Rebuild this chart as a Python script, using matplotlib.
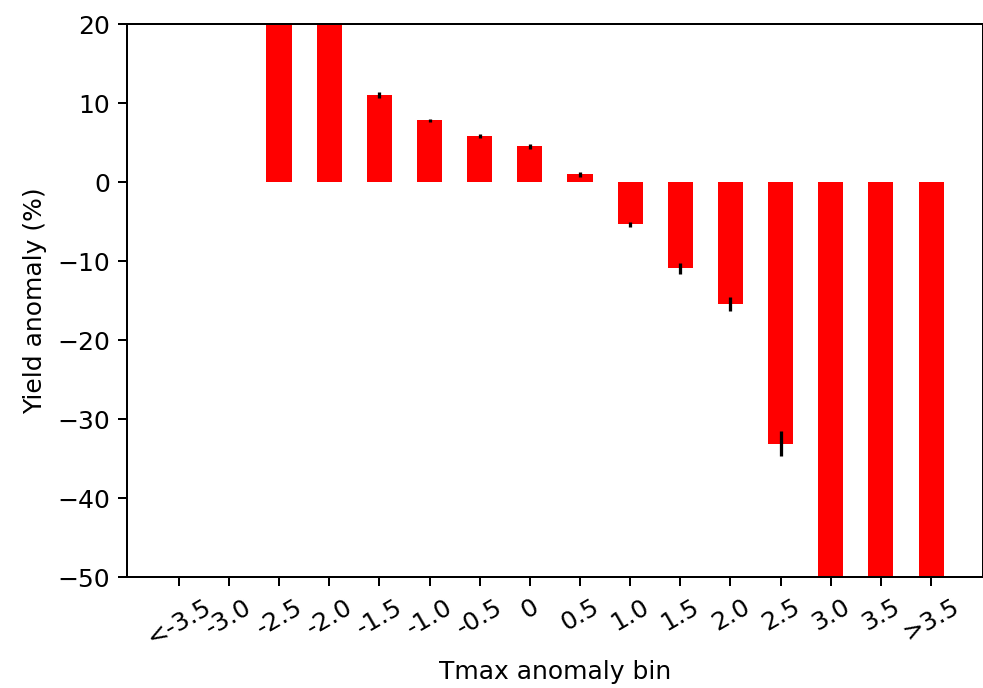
import numpy as np
import matplotlib.pyplot as plt

# Anomalia di resa per classe di anomalia di Tmax
bins = ['<-3.5', '-3.0', '-2.5', '-2.0', '-1.5', '-1.0', '-0.5', '0',
        '0.5', '1.0', '1.5', '2.0', '2.5', '3.0', '3.5', '>3.5']
yield_anom = [np.nan, np.nan, 28.0, 24.0, 11.0, 7.8, 5.85, 4.55,
              1.0, -5.35, -10.9, -15.4, -33.1, -60.0, -70.0, -80.0]
yield_err = [np.nan, np.nan, 0.5, 0.5, 0.4, 0.2, 0.3, 0.3,
             0.3, 0.3, 0.7, 0.9, 1.6, 1.0, 1.0, 1.0]

fig, ax = plt.subplots(figsize=(983 / 180, 688 / 180), dpi=180)
fig.subplots_adjust(left=0.1295, right=0.9995, top=0.965, bottom=0.161)

x = np.arange(len(bins))
ax.bar(x, yield_anom, width=0.5, color='red', yerr=yield_err,
       error_kw=dict(ecolor='k', elinewidth=1.3))

ax.set_xticks(x)
ax.set_xticklabels(bins, rotation=30)
ax.set_xlim(-1.025, 16.025)
ax.set_ylim(-50, 20)
ax.set_xlabel('Tmax anomaly bin')
ax.set_ylabel('Yield anomaly (%)')

plt.savefig('out.png', dpi=180)
plt.close()
